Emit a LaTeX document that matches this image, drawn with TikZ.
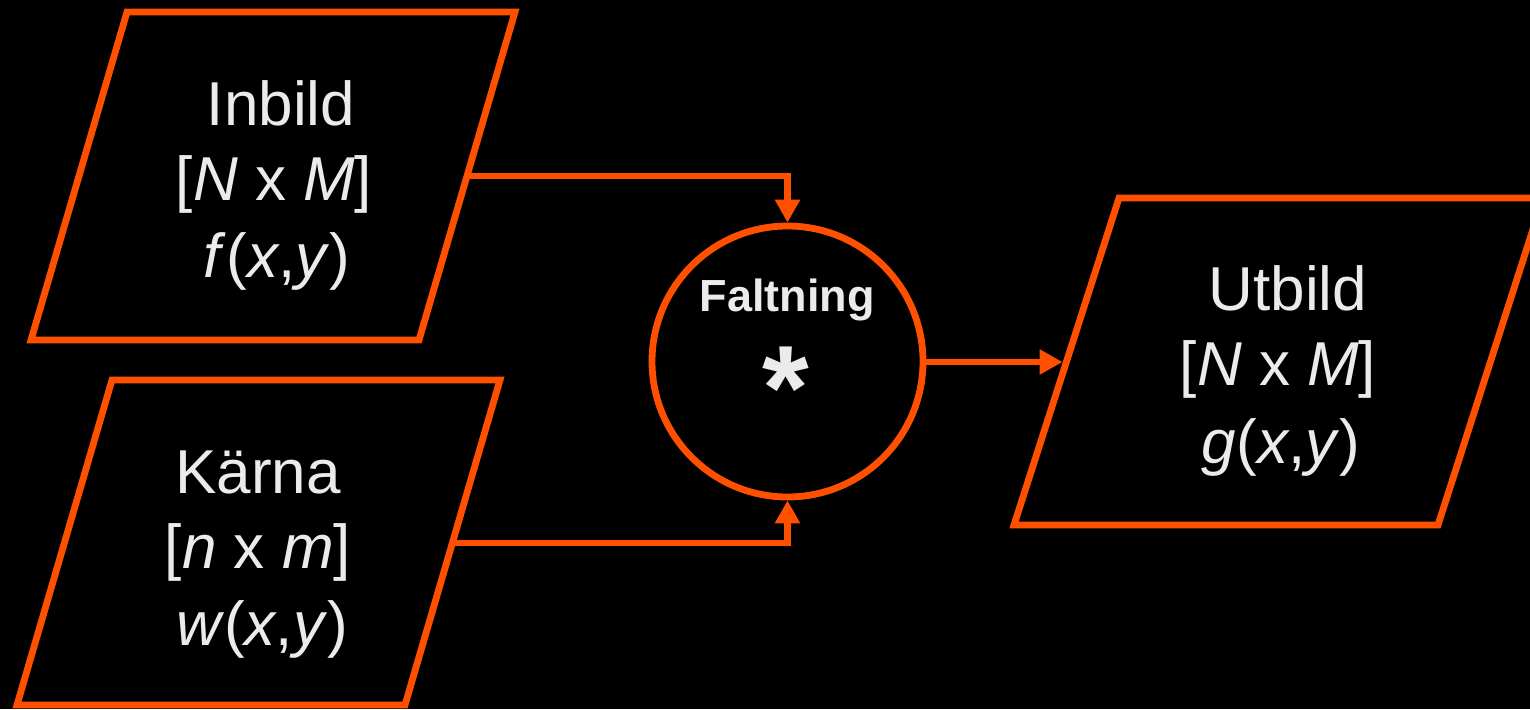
\documentclass[tikz,border=0pt]{standalone}
\usepackage{fontspec}
\setmainfont{Liberation Sans}
\usetikzlibrary{arrows.meta}
\definecolor{orng}{HTML}{FF5000}
\definecolor{txt}{HTML}{EBEBEB}
\tikzset{
  boxline/.style={draw=orng, line width=6.8pt, line join=miter},
  conn/.style={draw=orng, line width=6.8pt, -{Triangle[length=23pt,width=24pt]}},
  big/.style={text=txt, font=\fontsize{62}{76}\selectfont, inner sep=0pt, anchor=base},
}
\begin{document}
\begin{tikzpicture}[x=1pt,y=-1pt]
\fill[black] (0,0) rectangle (1530,709);
\useasboundingbox (0,0) rectangle (1530,709);
\clip (0,0) rectangle (1530,709);
% parallelograms
\draw[boxline] (127,12) -- (515,12) -- (419,340) -- (31,340) -- cycle;
\draw[boxline] (112,380) -- (500,380) -- (405,705) -- (17,705) -- cycle;
\draw[boxline] (1119,198) -- (1543,198) -- (1438,525) -- (1014,525) -- cycle;
% texts
\node[big] (inA) at (281,125) {Inbild};
\node[big] (inB) at (274,200) {[\textit{N} x \textit{M}]};
\node[big] (inC) at (277,277) {\textit{f}(\textit{x},\textit{y})};
\node[big] (kaA) at (258,493) {Kärna};
\node[big] (kaB) at (258,568) {[\textit{n} x \textit{m}]};
\node[big] (kaC) at (262,645) {\textit{w}(\textit{x},\textit{y})};
\node[big] (utA) at (1288,310) {Utbild};
\node[big] (utB) at (1278,385) {[\textit{N} x \textit{M}]};
\node[big] (utC) at (1281,463) {\textit{g}(\textit{x},\textit{y})};
% circle
\node[draw=orng, line width=6.8pt, circle, minimum size=271pt, inner sep=0pt] (conv) at (787.5,361.5) {};
\node[text=txt, font=\fontsize{45}{54}\selectfont\bfseries, inner sep=0pt, anchor=base] (falt) at (787,311) {Faltning};
\node[text=txt, font=\fontsize{120}{140}\selectfont\bfseries, inner sep=0pt, anchor=base] (ast) at (786,429) {*};
% connector ends
\coordinate (inout) at (467,176);
\coordinate (kaout) at (452.4,543);
\coordinate (utin) at (1062.5,362);
\draw[conn] (inout) -| (conv.north);
\draw[conn] (kaout) -| (conv.south);
\draw[conn] (conv.east |- utin) -- (utin);
\end{tikzpicture}
\end{document}
